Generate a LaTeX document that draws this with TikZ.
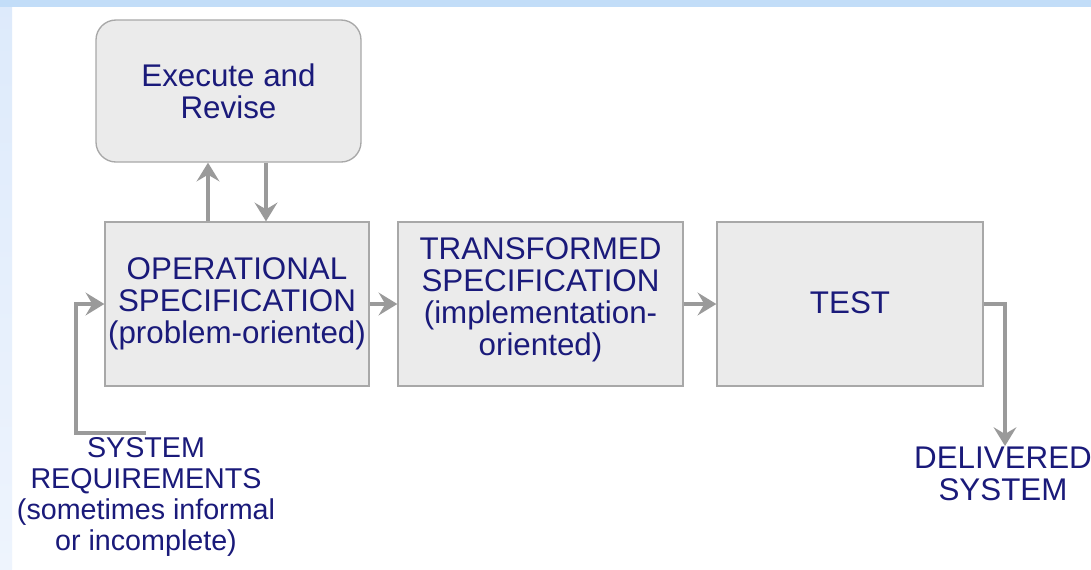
\documentclass[tikz,border=0pt]{standalone}
\usepackage{fontspec}
\setmainfont{Liberation Sans}
\usetikzlibrary{arrows.meta}
\definecolor{boxfill}{HTML}{EBEBEB}
\definecolor{boxline}{HTML}{A8A8A8}
\definecolor{arrowgray}{HTML}{9A9A9A}
\definecolor{inktext}{HTML}{1A1A7A}
\definecolor{bandblue}{HTML}{C2DDF8}
\definecolor{edgeblue}{HTML}{DDEAFB}
\definecolor{edgepale}{HTML}{EEF4FD}
\tikzset{
  x=0.75pt, y=-0.75pt,
  stagebox/.style={draw=boxline, line width=1pt, fill=boxfill, inner sep=0pt},
  label text/.style={text=inktext, align=center, inner sep=0pt,
    font=\fontsize{23.5}{24}\selectfont},
  side text/.style={label text, font=\fontsize{21.5}{23.3}\selectfont},
  flow/.style={draw=arrowgray, line width=3.2pt,
    -{Stealth[length=14pt, width=17pt, inset=5pt]}},
}
\begin{document}
\begin{tikzpicture}
\useasboundingbox (0,0) rectangle (1091,569);
% page background and frame bands
\fill[white] (0,0) rectangle (1091,569);
\shade[top color=edgeblue, bottom color=edgepale] (0,0) rectangle (12,569);
\fill[bandblue] (0,0) rectangle (1091,7);

% stages
\node[stagebox, rounded corners=15pt, minimum width=198.75pt, minimum height=106.5pt]
  (exec) at (228.5,91) {};
\node[label text] (exectext) at (228.5,91) {Execute and\\Revise};

\node[stagebox, minimum width=198pt, minimum height=123pt] (op) at (237,304) {};
\node[label text] (optext) at (237,304) {OPERATIONAL\\SPECIFICATION\\(problem-oriented)};

\node[stagebox, minimum width=213.75pt, minimum height=123pt] (trans) at (540.5,304) {};
\node[label text] (transtext) at (540.5,300)
  {TRANSFORMED\\SPECIFICATION\\(implementation-\\oriented)};

\node[stagebox, minimum width=199.5pt, minimum height=123pt] (test) at (850,304) {};
\node[label text] (testtext) at (850,303) {TEST};

% free-standing labels
\node[side text] (sysreq) at (146,497)
  {SYSTEM\\REQUIREMENTS\\(sometimes informal\\or incomplete)};
\node[label text] (deliv) at (1003,474) {DELIVERED\\SYSTEM};

% helper points for the bent connectors
\coordinate (srstart) at (146,433);
\coordinate (srbend) at (76,433);
\coordinate (delivtip) at (1005,446);

% connectors
\draw[flow] ([xshift=-21.75pt]op.north) -- ([xshift=-21.75pt]op.north |- exec.south);
\draw[flow] ([xshift=21.75pt]op.north |- exec.south) -- ([xshift=21.75pt]op.north);
\draw[flow] (op.east) -- (trans.west);
\draw[flow] (trans.east) -- (test.west);
\draw[flow] (srstart) -- (srbend) |- (op.west);
\draw[flow] (test.east) -| (delivtip);
\end{tikzpicture}
\end{document}
